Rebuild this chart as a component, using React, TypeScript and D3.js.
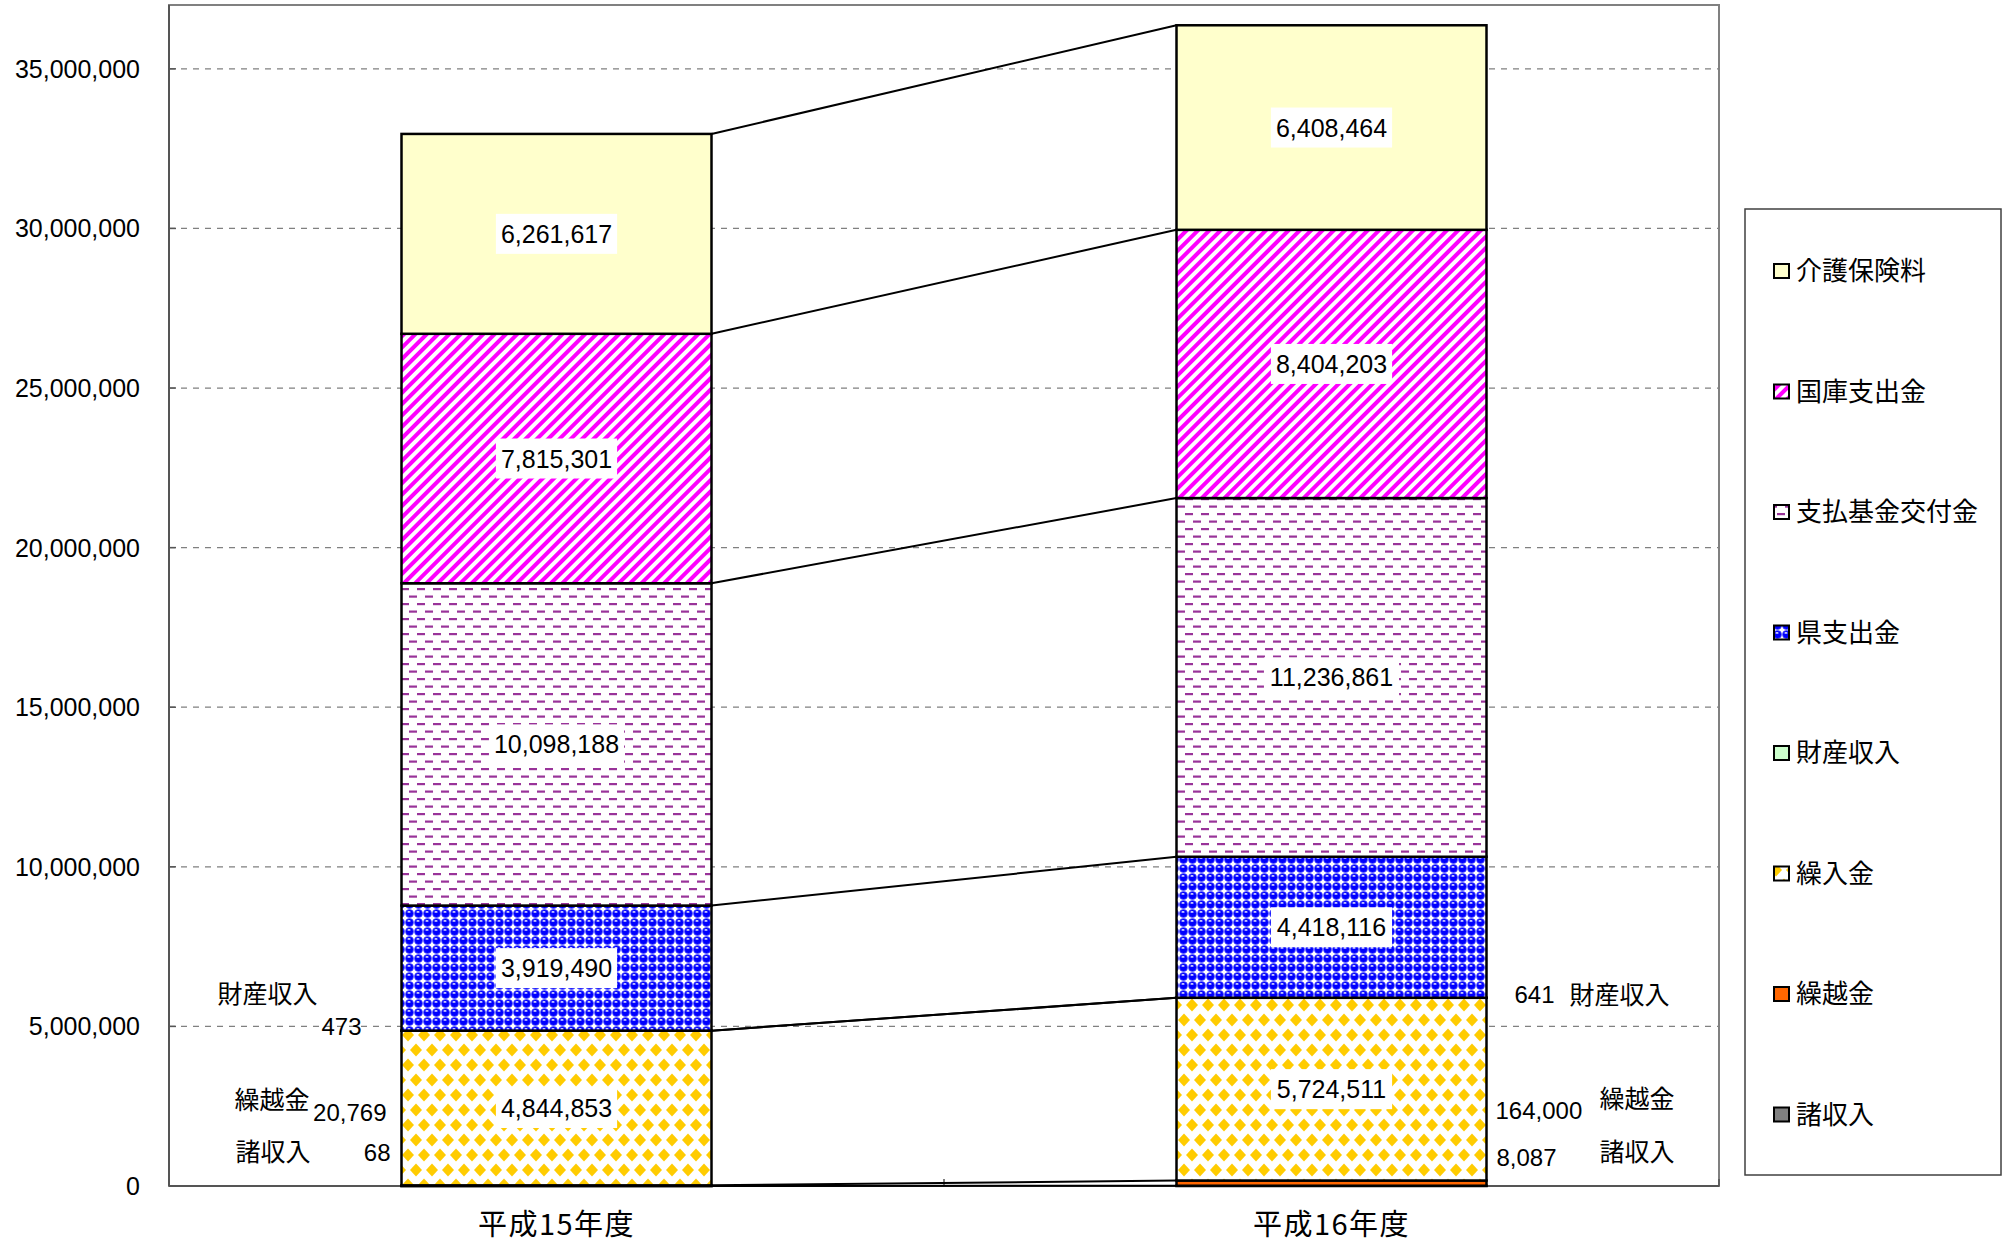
import React from "react";
import * as d3 from "d3";

const categories = ["平成15年度", "平成16年度"];
const seriesNames = ["諸収入", "繰越金", "繰入金", "財産収入", "県支出金", "支払基金交付金", "国庫支出金", "介護保険料"];
const valuesH15 = [68, 20769, 4844853, 473, 3919490, 10098188, 7815301, 6261617];
const valuesH16 = [8087, 164000, 5724511, 641, 4418116, 11236861, 8404203, 6408464];
const yTicks = [0, 5000000, 10000000, 15000000, 20000000, 25000000, 30000000, 35000000];
const yMax = 37000000;
const insideLabelSeries = ["繰入金", "県支出金", "支払基金交付金", "国庫支出金", "介護保険料"];

const W = 2015;
const H = 1245;
const plot = { left: 169, right: 1719, top: 5, bottom: 1186 };
const numFont = "'Liberation Sans', Arial, 'Noto Sans CJK JP', sans-serif";
const jpFont = "'Noto Sans CJK JP', 'Liberation Sans', sans-serif";

const fills: Record<string, string> = {
  "諸収入": "#808080",
  "繰越金": "#FF6600",
  "繰入金": "url(#pDiamond)",
  "財産収入": "#CCFFCC",
  "県支出金": "url(#pSphere)",
  "支払基金交付金": "url(#pDash)",
  "国庫支出金": "url(#pStripe)",
  "介護保険料": "#FFFFCC",
};

const fmt = d3.format(",");

function textWidth(s: string, size: number) {
  let w = 0;
  for (const c of s) {
    if (c === "," || c === ".") w += 0.278 * size;
    else w += 0.556 * size;
  }
  return w;
}

function diamond(cx: number, cy: number, hw: number, hh: number) {
  return `M${cx} ${cy - hh} L${cx + hw} ${cy} L${cx} ${cy + hh} L${cx - hw} ${cy} Z`;
}

export default function App() {
  const rows = categories.map((c, i) => {
    const r: any = { cat: c };
    seriesNames.forEach((s, j) => {
      r[s] = i === 0 ? valuesH15[j] : valuesH16[j];
    });
    return r;
  });
  const stacked = d3.stack<any>().keys(seriesNames)(rows);

  const x = d3
    .scaleBand<string>()
    .domain(categories)
    .range([plot.left, plot.right])
    .paddingInner(0.6)
    .paddingOuter(0.3);
  const bw = x.bandwidth();
  const y = d3.scaleLinear().domain([0, yMax]).range([plot.bottom, plot.top]);

  const x0 = x(categories[0])!;
  const x1 = x(categories[1])!;

  const sideFont = 24;
  const leftLabelsH15 = [
    { name: "財産収入", value: valuesH15[3], nameX: x0 - 84, valX: x0 - 40, nameY: y(stacked[3][0][1]) - 37, valY: y(stacked[3][0][1]) - 4 },
    { name: "繰越金", value: valuesH15[1], nameX: x0 - 92, valX: x0 - 15, nameY: plot.bottom - 86, valY: plot.bottom - 74 },
    { name: "諸収入", value: valuesH15[0], nameX: x0 - 91, valX: x0 - 11, nameY: plot.bottom - 34, valY: plot.bottom - 34 },
  ];
  const rightLabelsH16 = [
    { name: "財産収入", value: valuesH16[3], nameX: x1 + bw + 83, valX: x1 + bw + 28, nameY: y(stacked[3][1][1]) - 3, valY: y(stacked[3][1][1]) - 3 },
    { name: "繰越金", value: valuesH16[1], nameX: x1 + bw + 113, valX: x1 + bw + 9, nameY: plot.bottom - 87, valY: plot.bottom - 76 },
    { name: "諸収入", value: valuesH16[0], nameX: x1 + bw + 113, valX: x1 + bw + 10, nameY: plot.bottom - 34, valY: plot.bottom - 29 },
  ];

  const legendItems = [...seriesNames].reverse();
  const legend = { x: 1745, y: 209, w: 256, h: 966, firstY: 271, step: 120.5 };

  const dW = 16;
  const dH = 30;
  const dhw = 6;
  const dhh = 6.5;

  return (
    <svg
      width={W}
      height={H}
      viewBox={`0 0 ${W} ${H}`}
      style={{ position: "absolute", left: 0, top: 0, background: "#fff" }}
    >
      <defs>
        <pattern id="pStripe" patternUnits="userSpaceOnUse" width="8" height="8" patternTransform="rotate(45)">
          <rect width="8" height="8" fill="#fff" />
          <rect x="0" y="0" width="4" height="8" fill="#FF00FF" />
        </pattern>
        <pattern id="pDash" patternUnits="userSpaceOnUse" width="16" height="15">
          <rect width="16" height="15" fill="#fff" />
          <rect x="1" y="3" width="8" height="2.2" fill="#993399" />
          <rect x="9" y="10.5" width="8" height="2.2" fill="#993399" />
          <rect x="-7" y="10.5" width="8" height="2.2" fill="#993399" />
        </pattern>
        <pattern id="pSphere" patternUnits="userSpaceOnUse" width="9" height="9">
          <rect width="9" height="9" fill="#fff" />
          <circle cx="4.5" cy="4.5" r="4" fill="#0000FF" />
          <circle cx="4.5" cy="4.5" r="4" fill="none" stroke="#4d4dff" strokeWidth="0.7" />
          <ellipse cx="4" cy="2.9" rx="1.6" ry="0.85" fill="#ffffff" opacity="0.85" />
        </pattern>
        <pattern id="pDiamond" patternUnits="userSpaceOnUse" width={dW} height={dH}>
          <rect width={dW} height={dH} fill="#fff" />
          <path d={diamond(dW / 2, dH / 2, dhw, dhh)} fill="#FFCC00" />
          <path d={diamond(0, 0, dhw, dhh)} fill="#FFCC00" />
          <path d={diamond(dW, 0, dhw, dhh)} fill="#FFCC00" />
          <path d={diamond(0, dH, dhw, dhh)} fill="#FFCC00" />
          <path d={diamond(dW, dH, dhw, dhh)} fill="#FFCC00" />
        </pattern>
      </defs>

      {/* gridlines */}
      {yTicks.slice(1).map((t) => (
        <line
          key={"g" + t}
          x1={plot.left}
          x2={plot.right}
          y1={y(t)}
          y2={y(t)}
          stroke="#808080"
          strokeWidth={1.3}
          strokeDasharray="6,6"
        />
      ))}

      {/* plot frame */}
      <rect
        x={plot.left}
        y={plot.top}
        width={plot.right - plot.left}
        height={plot.bottom - plot.top}
        fill="none"
        stroke="#808080"
        strokeWidth={2}
      />
      <line x1={plot.left} x2={plot.left} y1={plot.top} y2={plot.bottom} stroke="#555" strokeWidth={2} />
      <line x1={plot.left} x2={plot.right} y1={plot.bottom} y2={plot.bottom} stroke="#555" strokeWidth={2} />
      {yTicks.map((t) => (
        <line key={"t" + t} x1={plot.left} x2={plot.left + 7} y1={y(t)} y2={y(t)} stroke="#555" strokeWidth={1.5} />
      ))}
      {[plot.left, (plot.left + plot.right) / 2, plot.right].map((tx, i) => (
        <line key={"ct" + i} x1={tx} x2={tx} y1={plot.bottom} y2={plot.bottom - 7} stroke="#555" strokeWidth={1.5} />
      ))}

      {/* y tick labels */}
      {yTicks.map((t) => (
        <text
          key={"yl" + t}
          x={140}
          y={y(t)}
          dy="0.36em"
          textAnchor="end"
          fontFamily={numFont}
          fontSize={25}
          fill="#000"
        >
          {fmt(t)}
        </text>
      ))}

      {/* series lines */}
      {stacked.map((s) => (
        <line
          key={"sl" + s.key}
          x1={x0 + bw}
          y1={y(s[0][1])}
          x2={x1}
          y2={y(s[1][1])}
          stroke="#000"
          strokeWidth={2}
        />
      ))}

      {/* bars */}
      {stacked.map((s) =>
        s.map((d, i) => (
          <rect
            key={s.key + i}
            x={x(categories[i])!}
            y={y(d[1])}
            width={bw}
            height={Math.max(0, y(d[0]) - y(d[1]))}
            fill={fills[s.key]}
            stroke="#000"
            strokeWidth={2.5}
          />
        ))
      )}

      {/* inside data labels */}
      {stacked
        .filter((s) => insideLabelSeries.includes(s.key))
        .map((s) =>
          s.map((d, i) => {
            const v = d[1] - d[0];
            const label = fmt(v);
            const tw = textWidth(label, 25);
            const cx = x(categories[i])! + bw / 2;
            const cy = y((d[0] + d[1]) / 2);
            return (
              <g key={"dl" + s.key + i}>
                <rect x={cx - tw / 2 - 5} y={cy - 20} width={tw + 10} height={40} fill="#fff" />
                <text
                  x={cx}
                  y={cy}
                  dy="0.36em"
                  textAnchor="middle"
                  fontFamily={numFont}
                  fontSize={25}
                  fill="#000"
                >
                  {label}
                </text>
              </g>
            );
          })
        )}

      {/* side labels */}
      {leftLabelsH15.map((l) => (
        <g key={"ll" + l.name}>
          <text x={l.nameX} y={l.nameY} dy="0.36em" textAnchor="end" fontFamily={jpFont} fontSize={25} fill="#000">
            {l.name}
          </text>
          <text x={l.valX} y={l.valY} dy="0.36em" textAnchor="end" fontFamily={numFont} fontSize={sideFont} fill="#000">
            {fmt(l.value)}
          </text>
        </g>
      ))}
      {rightLabelsH16.map((l) => (
        <g key={"rl" + l.name}>
          <text x={l.nameX} y={l.nameY} dy="0.36em" textAnchor="start" fontFamily={jpFont} fontSize={25} fill="#000">
            {l.name}
          </text>
          <text x={l.valX} y={l.valY} dy="0.36em" textAnchor="start" fontFamily={numFont} fontSize={sideFont} fill="#000">
            {fmt(l.value)}
          </text>
        </g>
      ))}

      {/* category labels */}
      {categories.map((c) => (
        <text
          key={"cl" + c}
          x={x(c)! + bw / 2}
          y={1235}
          textAnchor="middle"
          fontFamily={jpFont}
          fontSize={29}
          letterSpacing={1.5}
          fill="#000"
        >
          {c}
        </text>
      ))}

      {/* legend */}
      <rect x={legend.x} y={legend.y} width={legend.w} height={legend.h} fill="#fff" stroke="#404040" strokeWidth={1.5} />
      {legendItems.map((name, i) => {
        const cy = legend.firstY + i * legend.step;
        return (
          <g key={"lg" + name}>
            <rect x={1774} y={cy - 7} width={15} height={14} fill={fills[name]} stroke="#000" strokeWidth={2} />
            <text x={1796} y={cy} dy="0.36em" fontFamily={jpFont} fontSize={26} fill="#000">
              {name}
            </text>
          </g>
        );
      })}
    </svg>
  );
}
